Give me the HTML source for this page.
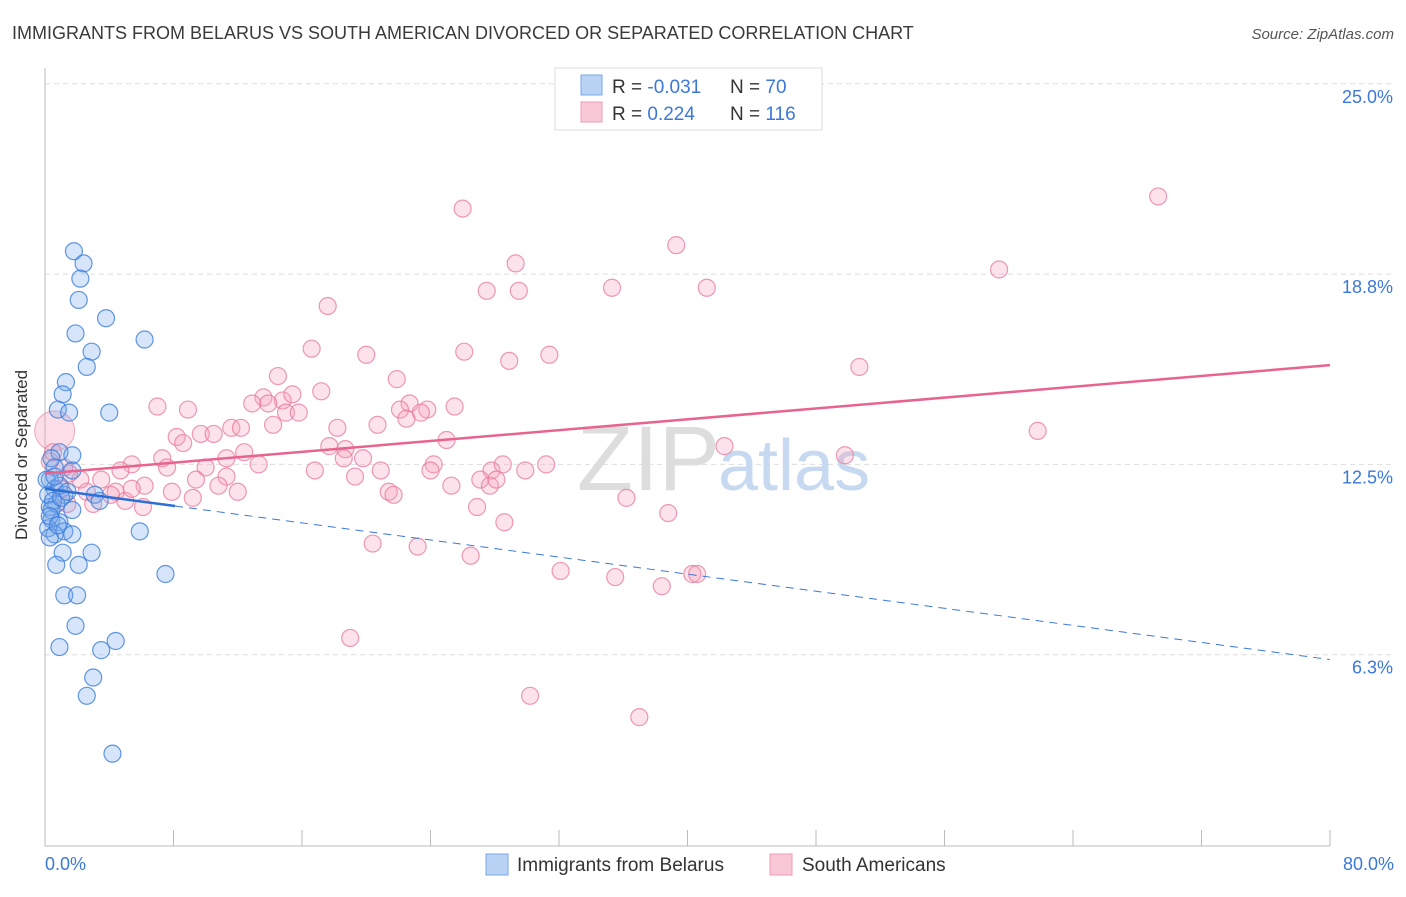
<!DOCTYPE html>
<html><head><meta charset="utf-8"><style>
body{margin:0;background:#fff;font-family:"Liberation Sans",sans-serif;}
svg text{font-family:"Liberation Sans",sans-serif;}
</style></head><body>
<svg width="1406" height="892" viewBox="0 0 1406 892">
<text x="12" y="39" font-size="18" fill="#3a3a3a">IMMIGRANTS FROM BELARUS VS SOUTH AMERICAN DIVORCED OR SEPARATED CORRELATION CHART</text>
<text x="1394" y="39" font-size="15" fill="#555" text-anchor="end" font-style="italic">Source: ZipAtlas.com</text>
<g id="grid"></g>
<g id="axes"></g>
<text x="720" y="490" font-size="92" fill="#ddd" text-anchor="end" font-family="Liberation Serif">ZIP</text>
<text x="718" y="490" font-size="72" fill="#c7d9f0">atlas</text>
<g id="pink"></g>
<g id="blue"></g>
<g id="trend"></g>
<text x="27" y="455" font-size="17" fill="#333" text-anchor="middle" transform="rotate(-90 27 455)">Divorced or Separated</text>
<text x="45" y="870" font-size="18" fill="#3b78d8">0.0%</text>
<text x="1394" y="870" font-size="18" fill="#3b78d8" text-anchor="end">80.0%</text>
<g>
<rect x="555" y="68" width="267" height="62" fill="#fff" stroke="#ddd"/>
<rect x="581" y="75" width="21" height="20" fill="#b8d3f4" stroke="#7aa8e8"/>
<rect x="581" y="102" width="21" height="20" fill="#f9c8d6" stroke="#ef9bb5"/>
<text x="612" y="93" font-size="19" fill="#333">R = <tspan fill="#3b78d8">-0.031</tspan></text>
<text x="730" y="93" font-size="19" fill="#333">N = <tspan fill="#3b78d8"> 70</tspan></text>
<text x="612" y="120" font-size="19" fill="#333">R = <tspan fill="#3b78d8"> 0.224</tspan></text>
<text x="730" y="120" font-size="19" fill="#333">N = <tspan fill="#3b78d8">116</tspan></text>
</g>
<g>
<rect x="486" y="854" width="22" height="21" fill="#b8d3f4" stroke="#7aa8e8"/>
<text x="517" y="871" font-size="19" fill="#333">Immigrants from Belarus</text>
<rect x="770" y="854" width="22" height="21" fill="#f9c8d6" stroke="#ef9bb5"/>
<text x="802" y="871" font-size="19" fill="#333">South Americans</text>
</g>
</svg>
<script>
const yTicks=[25,18.75,12.5,6.25];
const yTickLabels=["25.0%","18.8%","12.5%","6.3%"];
const xTicks=[0,8,16,24,32,40,48,56,64,72,80];
const blueX=[1.8,2.4,2.2,2.1,3.8,1.9,6.2,2.9,2.6,1.3,1.1,0.8,1.5,4.0,0.9,1.7,0.4,0.6,1.7,0.3,0.6,1.2,3.1,3.4,0.7,0.3,1.7,0.4,0.9,0.2,1.2,1.7,0.6,5.9,0.3,2.9,1.1,0.7,2.1,7.5,1.2,2.0,1.9,0.9,3.5,4.4,3.0,2.6,4.2,0.2,0.5,0.1,0.9,0.4,1.0,0.3,0.8,1.4,0.6];
const blueY=[19.5,19.1,18.6,17.9,17.3,16.8,16.6,16.2,15.7,15.2,14.8,14.3,14.2,14.2,12.9,12.8,12.7,12.4,12.3,12.0,11.7,11.5,11.5,11.3,11.2,11.1,11.0,10.7,10.6,10.4,10.3,10.2,10.2,10.3,10.1,9.6,9.6,9.2,9.2,8.9,8.2,8.2,7.2,6.5,6.4,6.7,5.5,4.9,3.0,11.5,11.3,12.0,11.8,11.0,11.4,10.8,10.5,11.6,12.1];
const pinkX=[26.0,69.3,39.3,29.3,27.5,29.5,35.3,41.2,59.4,17.6,16.6,20.0,26.1,28.9,31.4,50.7,21.9,14.5,17.2,13.6,14.8,15.4,12.9,13.9,7.0,8.9,22.7,22.1,23.8,25.5,23.4,15.0,15.8,22.5,20.7,18.2,14.2,11.6,12.2,8.2,8.6,9.7,10.5,25.0,61.8,42.3,17.7,18.7,18.6,12.4,7.3,5.4,13.3,19.8,10.0,11.3,24.2,16.8,19.3,20.9,24.0,27.8,28.5,31.2,29.9,27.1,27.7,28.1,25.3,49.8,11.3,9.4,7.6,4.7,6.2,4.4,3.5,1.2,2.6,3.0,7.9,10.8,12.0,21.4,21.7,5.0,6.1,9.2,1.4,36.2,26.9,38.8,28.6,20.4,23.2,26.5,32.1,35.5,40.3,40.6,38.4,19.0,30.2,37.0,0.3,1.0,2.2,4.1,5.4,0.5,1.5];
const pinkY=[20.9,21.3,19.7,19.1,18.2,18.2,18.3,18.3,18.9,17.7,16.3,16.1,16.2,15.9,16.1,15.7,15.3,15.4,14.9,14.7,14.6,14.8,14.5,14.5,14.4,14.3,14.5,14.3,14.3,14.4,14.2,14.2,14.2,14.0,13.8,13.7,13.8,13.7,13.7,13.4,13.2,13.5,13.5,13.3,13.6,13.1,13.1,13.0,12.7,12.9,12.7,12.5,12.5,12.7,12.4,12.7,12.5,12.3,12.1,12.3,12.3,12.3,12.5,12.5,12.3,12.0,11.8,12.0,11.8,12.8,12.1,12.0,12.4,12.3,11.8,11.6,12.0,12.4,11.6,11.2,11.6,11.8,11.6,11.6,11.5,11.3,11.1,11.4,11.2,11.4,11.1,10.9,10.6,9.9,9.8,9.5,9.0,8.8,8.9,8.9,8.5,6.8,4.9,4.2,12.6,11.7,12.0,11.5,11.7,12.9,12.2];
const bigPinkX=[0.6], bigPinkY=[13.6];
const pinkTrend=[12.2,15.76];
const blueTrend=[11.7,6.09];
const blueSolidEnd=8.1;
const NS="http://www.w3.org/2000/svg";
const X=v=>45+v*(1285/80);
const Y=v=>845-v*30.45;
function mk(tag,attrs,parent){const e=document.createElementNS(NS,tag);for(const k in attrs)e.setAttribute(k,attrs[k]);parent.appendChild(e);return e;}
const grid=document.getElementById('grid'),axes=document.getElementById('axes');
yTicks.forEach((t,i)=>{
 const l=mk('line',{x1:45,x2:1394,y1:Y(t),y2:Y(t),stroke:'#ddd','stroke-dasharray':'5,4'},grid);
 
 
 const tx=mk('text',{x:1393,y:Y(t)+19,'font-size':18,fill:'#3b78d8','text-anchor':'end'},axes);
 tx.textContent=yTickLabels[i];
 
 
});
const ax1=mk('line',{x1:45,x2:45,y1:68,y2:846,stroke:'#bbb'},axes);


const ax2=mk('line',{x1:45,x2:1330,y1:846,y2:846,stroke:'#bbb'},axes);


xTicks.forEach(t=>{
 const l=mk('line',{x1:X(t),x2:X(t),y1:830,y2:846,stroke:'#bbb'},axes);
 
 
});
const pink=document.getElementById('pink'),blue=document.getElementById('blue'),trend=document.getElementById('trend');
bigPinkX.forEach((x,i)=>{
 const c=mk('circle',{cx:X(x),cy:Y(bigPinkY[i]),r:20,fill:'rgba(244,160,186,0.35)',stroke:'rgba(232,120,155,0.6)'},pink);
 
 
});
pinkX.forEach((x,i)=>{
 const c=mk('circle',{cx:X(x),cy:Y(pinkY[i]),r:8.5,fill:'rgba(244,160,186,0.3)',stroke:'rgba(232,120,155,0.75)','stroke-width':1.2},pink);
 
 
});
blueX.forEach((x,i)=>{
 const c=mk('circle',{cx:X(x),cy:Y(blueY[i]),r:8.5,fill:'rgba(120,170,235,0.3)',stroke:'rgba(60,125,220,0.8)','stroke-width':1.2},blue);
 
 
});
const bAt=x=>blueTrend[0]+(blueTrend[1]-blueTrend[0])*x/80;
const pl=mk('line',{x1:X(0),y1:Y(pinkTrend[0]),x2:X(80),y2:Y(pinkTrend[1]),stroke:'#e8638e','stroke-width':2.5},trend);


const bl=mk('line',{x1:X(0),y1:Y(bAt(0)),x2:X(blueSolidEnd),y2:Y(bAt(blueSolidEnd)),stroke:'#2d6fd6','stroke-width':2.5},trend);


const bd=mk('line',{x1:X(blueSolidEnd),y1:Y(bAt(blueSolidEnd)),x2:X(80),y2:Y(bAt(80)),stroke:'#3b78d8','stroke-width':1,'stroke-dasharray':'8,6'},trend);


</script>
</body></html>
